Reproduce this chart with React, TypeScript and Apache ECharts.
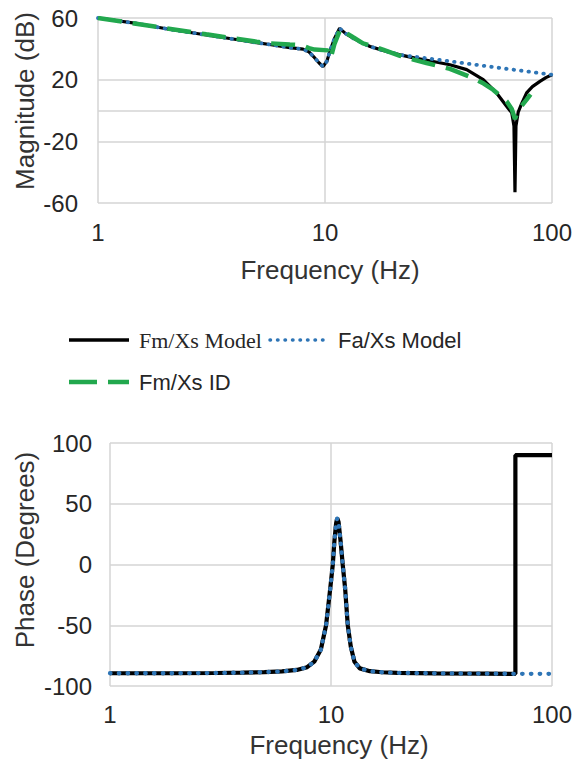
import React, { useEffect, useRef } from 'react';
import * as echarts from 'echarts';

// ---------- data (frequency Hz, value) ----------
const seriesNames = ['Fm/Xs Model', 'Fa/Xs Model', 'Fm/Xs ID'];

const fmModelMag: [number, number][] = [
  [1, 60], [1.5, 56.3], [2, 53], [3, 49], [4, 46.2], [5, 44], [5.7, 42.8], [7, 40.8], [8, 39.8],
  [8.5, 38], [8.9, 35], [9.4, 31], [9.8, 28.5], [10.2, 32], [10.5, 38.3], [11, 46.5], [11.6, 53.3],
  [12.3, 50], [13.3, 46.9], [14.5, 44], [15.8, 41.5], [18, 39], [21.4, 36.1], [25, 34], [30, 31.8],
  [35.5, 29.7], [42.1, 26.5], [49.8, 20], [57, 11.4], [63.1, 2.8], [66.5, -1.5], [68, -10],
  [68.7, -53], [69.4, -10], [71, -1], [73.5, 4.5], [77.3, 11.4], [82, 15.5], [88.5, 18.9],
  [94, 21.3], [100, 23.2],
];

const faModelMag: [number, number][] = [
  [1, 60], [1.5, 56.3], [2, 53], [3, 49], [4, 46.2], [5, 44], [5.7, 42.8], [7, 40.8], [8, 39.8],
  [8.5, 38], [8.9, 35], [9.4, 31], [9.8, 28.5], [10.2, 32], [10.5, 38.3], [11, 46.5], [11.6, 53.3],
  [12.3, 50], [13.3, 46.9], [14.5, 44], [15.8, 41.5], [18, 39], [21.4, 36.1], [30, 33.3],
  [42, 30.5], [59, 27.6], [80, 25.1], [100, 23.2],
];

const fmIdMag: [number, number][] = [
  [1, 60], [2, 53.3], [3, 49.4], [4, 46.7], [5, 44.6], [5.7, 43.6], [7, 42.8], [7.9, 42.4],
  [8.5, 40.5], [9, 39.5], [10.3, 39], [10.6, 34], [11, 43], [11.7, 53], [12.5, 50], [13.3, 47.5],
  [14.7, 43.5], [15.8, 42.2], [18, 39.5], [21.4, 35.5], [24.5, 33], [28, 30.8], [35.5, 27],
  [45, 21], [50, 17.5], [55, 13.5], [63.1, 6], [66.5, 1], [68.7, -5.5], [70.5, -1], [73.5, 3],
  [77.3, 7.1], [80.5, 10.5],
];

const fmModelPhase: [number, number][] = [
  [1, -89.5], [2, -89.5], [3, -89.3], [4, -89], [5, -88.6], [6, -88], [7, -86.8], [7.8, -84.5],
  [8.4, -80], [9, -70], [9.5, -50], [9.92, -20], [10.19, 0], [10.37, 20], [10.55, 34], [10.67, 38],
  [10.82, 35], [11.04, 20], [11.3, 0], [11.59, -20], [11.91, -50], [12.3, -68], [12.77, -80],
  [13.5, -85.5], [15, -87.8], [17, -88.7], [20, -89.2], [30, -89.6], [50, -89.8], [68.3, -90],
  [68.3, 90], [100, 90],
];

const faModelPhase: [number, number][] = [
  [1, -89.5], [2, -89.5], [3, -89.3], [4, -89], [5, -88.6], [6, -88], [7, -86.8], [7.8, -84.5],
  [8.4, -80], [9, -70], [9.5, -50], [9.92, -20], [10.19, 0], [10.37, 20], [10.55, 34], [10.67, 38],
  [10.82, 35], [11.04, 20], [11.3, 0], [11.59, -20], [11.91, -50], [12.3, -68], [12.77, -80],
  [13.5, -85.5], [15, -87.8], [17, -88.7], [20, -89.2], [30, -89.6], [50, -89.8], [68.3, -90],
  [100, -90],
];

const magTickLabels = [-60, -20, 20, 60];
const magGridValues = [-60, -20, 0, 20, 60];

export default function App() {
  const ref = useRef<HTMLDivElement>(null);

  useEffect(() => {
    document.body.style.margin = '0';
    const chart = echarts.init(ref.current!, null, { renderer: 'svg' });
    const font = '"Liberation Sans", Arial, sans-serif';
    const serif = '"Liberation Serif", "Times New Roman", serif';
    const gridColor = '#d4d4d4';
    const txt = '#262626';
    const black = '#000000';
    const blue = '#2e75b6';
    const green = '#22a84e';

    const xAxis = (gridIndex: number, margin: number) => ({
      type: 'log',
      logBase: 10,
      min: 1,
      max: 100,
      gridIndex,
      axisLine: { show: false },
      axisTick: { show: false },
      axisLabel: { fontSize: 24, fontFamily: font, color: txt, margin },
      splitLine: { show: true, lineStyle: { color: gridColor, width: 1.5 } },
    });

    const magLineColors = [-60, -40, -20, 0, 20, 40, 60].map((v) =>
      magGridValues.includes(v) ? gridColor : 'rgba(0,0,0,0)'
    );

    const lineSeries = (name: string, data: [number, number][], idx: number, style: any) => ({
      name,
      type: 'line',
      xAxisIndex: idx,
      yAxisIndex: idx,
      data,
      symbol: 'none',
      showSymbol: false,
      lineStyle: style,
      silent: true,
    });

    const blackStyle = { color: black, width: 3.2 };
    const blueStyle = { color: blue, width: 3.8, type: [0.5, 7], cap: 'round' };
    const greenStyle = { color: green, width: 4.5, type: [24, 11] };
    const blackPhaseStyle = { color: black, width: 4.2 };
    const bluePhaseStyle = { color: blue, width: 4.3, type: [0.5, 8.3], cap: 'round' };

    const titleStyle = (text: string) => ({
      text,
      font: `26px ${font}`,
      fill: '#333333',
      align: 'center',
      verticalAlign: 'middle',
      textAlign: 'center',
      textVerticalAlign: 'middle',
    });
    const legendText = (text: string, f: string) => ({
      text,
      font: `22px ${f}`,
      fill: txt,
      align: 'left',
      verticalAlign: 'middle',
      textAlign: 'left',
      textVerticalAlign: 'middle',
    });

    chart.setOption({
      animation: false,
      grid: [
        { left: 98, right: 22, top: 18, height: 185 },
        { left: 110, right: 22, top: 443, height: 243 },
      ],
      xAxis: [xAxis(0, 17), xAxis(1, 16)],
      yAxis: [
        {
          type: 'value',
          gridIndex: 0,
          min: -60,
          max: 60,
          interval: 20,
          axisLine: { show: false },
          axisTick: { show: false },
          axisLabel: {
            fontSize: 24,
            fontFamily: font,
            color: txt,
            margin: 20,
            formatter: (v: number) => (magTickLabels.includes(v) ? String(v) : ''),
          },
          splitLine: { show: true, lineStyle: { color: magLineColors, width: 1.5 } },
        },
        {
          type: 'value',
          gridIndex: 1,
          min: -100,
          max: 100,
          interval: 50,
          axisLine: { show: false },
          axisTick: { show: false },
          axisLabel: { fontSize: 24, fontFamily: font, color: txt, margin: 18 },
          splitLine: { show: true, lineStyle: { color: gridColor, width: 1.5 } },
        },
      ],
      series: [
        lineSeries(seriesNames[0], fmModelMag, 0, blackStyle),
        lineSeries(seriesNames[1], faModelMag, 0, blueStyle),
        lineSeries(seriesNames[2], fmIdMag, 0, greenStyle),
        lineSeries(seriesNames[0], fmModelPhase, 1, blackPhaseStyle),
        lineSeries(seriesNames[1], faModelPhase, 1, bluePhaseStyle),
      ],
      graphic: [
        { type: 'text', x: 330, y: 270, style: titleStyle('Frequency (Hz)') },
        { type: 'text', x: 25, y: 101, rotation: Math.PI / 2, style: titleStyle('Magnitude (dB)') },
        { type: 'text', x: 339, y: 745, style: titleStyle('Frequency (Hz)') },
        { type: 'text', x: 25, y: 550, rotation: Math.PI / 2, style: titleStyle('Phase (Degrees)') },
        // legend
        {
          type: 'line',
          shape: { x1: 69, y1: 340, x2: 129, y2: 340 },
          style: { stroke: black, lineWidth: 3.5 },
        },
        { type: 'text', x: 139, y: 340, style: legendText(seriesNames[0], serif) },
        {
          type: 'line',
          shape: { x1: 270, y1: 340, x2: 330, y2: 340 },
          style: { stroke: blue, lineWidth: 3.5, lineDash: [0.5, 7], lineCap: 'round' },
        },
        { type: 'text', x: 338, y: 340, style: legendText(seriesNames[1], font) },
        {
          type: 'line',
          shape: { x1: 69, y1: 382, x2: 129, y2: 382 },
          style: { stroke: green, lineWidth: 4.5, lineDash: [28, 11] },
        },
        { type: 'text', x: 139, y: 382, style: legendText(seriesNames[2], font) },
      ],
    });

    return () => chart.dispose();
  }, []);

  return <div ref={ref} style={{ width: 575, height: 768 }} />;
}
